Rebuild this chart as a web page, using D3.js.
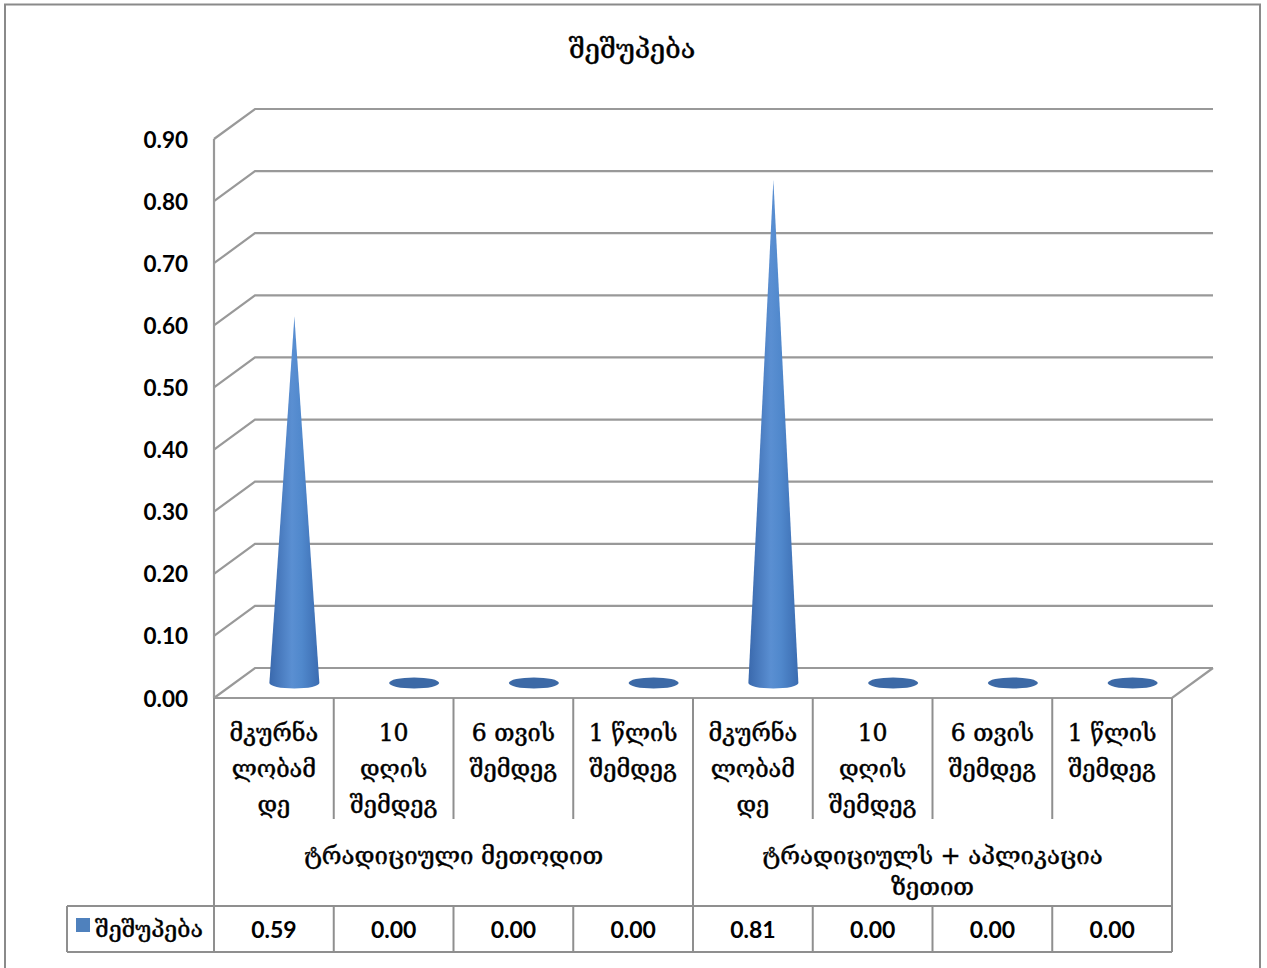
<!DOCTYPE html>
<html>
<head>
<meta charset="utf-8">
<script src="https://cdn.jsdelivr.net/npm/d3@7"></script>
<style>
  html, body { margin: 0; padding: 0; background: #fff; }
  svg { display: block; }
  .geo { font-family: 'DejaVu Serif', 'DejaVu Sans', serif; fill: #000; stroke: #000; stroke-width: 0.45px; }
  .num { font-family: Lato, 'Liberation Sans', sans-serif; font-weight: bold; font-size: 23px; fill: #000; }
</style>
</head>
<body>
<svg id="chart" width="1267" height="968"></svg>
<script>
// Chart content
const title = "შეშუპება";
const seriesName = "შეშუპება";
const categories = [
  "მკურნა\nლობამ\nდე", "10\nდღის\nშემდეგ", "6 თვის\nშემდეგ", "1 წლის\nშემდეგ",
  "მკურნა\nლობამ\nდე", "10\nდღის\nშემდეგ", "6 თვის\nშემდეგ", "1 წლის\nშემდეგ"
];
const groups = ["ტრადიციული მეთოდით", "ტრადიციულს + აპლიკაცია\nზეთით"];
const groupSize = 4;
const values = [0.59, 0.00, 0.00, 0.00, 0.81, 0.00, 0.00, 0.00];
const yTicks = [0, 0.1, 0.2, 0.3, 0.4, 0.5, 0.6, 0.7, 0.8, 0.9];

const svg = d3.select("#chart");
const lineCol = "#8f8f8f";

// plot frame: front plane, with the back wall offset by the depth vector
const left = 214, right = 1172;
const depth = { dx: 41, dy: -30 };
const x = d3.scaleBand().domain(d3.range(categories.length)).range([left, right]);
const y = d3.scaleLinear().domain([0, 0.9]).range([698, 139]);
const fmt = d3.format(".2f");

// outer chart border
svg.append("path")
  .attr("d", "M5,980 L5,4.5 L1260,4.5 L1260,980")
  .attr("fill", "none").attr("stroke", "#8a8a8a").attr("stroke-width", 2);

// title
svg.append("text").text(title).attr("class", "geo")
  .attr("x", 632).attr("y", 48).attr("text-anchor", "middle")
  .attr("dominant-baseline", "central")
  .style("font-size", "27px");

// gridlines: side-wall diagonal + back-wall horizontal
const grid = svg.append("g").attr("fill", "none").attr("stroke", "#999").attr("stroke-width", 2.2);
yTicks.forEach(t => {
  const yy = y(t);
  grid.append("path").attr("d",
    `M${left},${yy} L${left + depth.dx},${yy + depth.dy} L${right + depth.dx},${yy + depth.dy}`);
});
// front-left axis line
grid.append("line").attr("x1", left).attr("x2", left).attr("y1", y(0.9)).attr("y2", y(0));
// floor right edge and front edge
grid.append("path").attr("d",
  `M${left},${y(0)} L${right},${y(0)} L${right + depth.dx},${y(0) + depth.dy}`);

// y tick labels
svg.append("g").selectAll("text").data(yTicks).join("text")
  .attr("class", "num").style("font-size", "22.5px")
  .text(d => fmt(d))
  .attr("x", 188).attr("y", d => y(d))
  .attr("text-anchor", "end").attr("dominant-baseline", "central");

// cone gradient
const defs = svg.append("defs");
const grad = defs.append("linearGradient").attr("id", "coneGrad")
  .attr("x1", "0%").attr("x2", "100%").attr("y1", "0%").attr("y2", "0%");
grad.append("stop").attr("offset", "0%").attr("stop-color", "#3a69ad");
grad.append("stop").attr("offset", "45%").attr("stop-color", "#5a8fd2");
grad.append("stop").attr("offset", "65%").attr("stop-color", "#5088cc");
grad.append("stop").attr("offset", "100%").attr("stop-color", "#3b6cb1");

// cones, centred at mid-depth of the floor
const rx = 25, ry = 5.5;
const cones = svg.append("g");
values.forEach((v, i) => {
  const cx = x(i) + x.bandwidth() / 2 + depth.dx / 2;
  const by = y(0) + depth.dy / 2;
  const ay = y(v) + depth.dy / 2;
  if (v > 0) {
    cones.append("path")
      .attr("d", `M${cx - rx},${by} L${cx},${ay} L${cx + rx},${by} A${rx},${ry} 0 0 1 ${cx - rx},${by} Z`)
      .attr("fill", "url(#coneGrad)");
  } else {
    cones.append("ellipse").attr("cx", cx).attr("cy", by).attr("rx", rx).attr("ry", ry)
      .attr("fill", "#3c69a6");
  }
});

// data table
const tbl = svg.append("g").attr("stroke", lineCol).attr("stroke-width", 2).attr("fill", "none");
const rowCatBottom = 819, rowGrpBottom = 906, rowValBottom = 952;
// category dividers
d3.range(categories.length + 1).forEach(i => {
  const xx = i < categories.length ? x(i) : right;
  const isGroupEdge = i % groupSize === 0;
  tbl.append("line").attr("x1", xx).attr("x2", xx)
    .attr("y1", y(0)).attr("y2", isGroupEdge ? rowValBottom : rowCatBottom);
  if (!isGroupEdge) {
    tbl.append("line").attr("x1", xx).attr("x2", xx).attr("y1", rowGrpBottom).attr("y2", rowValBottom);
  }
});
// value row box incl. legend cell
tbl.append("line").attr("x1", 67).attr("x2", right).attr("y1", rowGrpBottom).attr("y2", rowGrpBottom);
tbl.append("line").attr("x1", 67).attr("x2", right).attr("y1", rowValBottom).attr("y2", rowValBottom);
tbl.append("line").attr("x1", 67).attr("x2", 67).attr("y1", rowGrpBottom).attr("y2", rowValBottom);

// category labels
const catG = svg.append("g");
categories.forEach((c, i) => {
  const t = catG.append("text").attr("class", "geo")
    .attr("text-anchor", "middle").style("font-size", "23.5px");
  c.split("\n").forEach((ln, k) => {
    t.append("tspan").text(ln)
      .attr("x", x(i) + x.bandwidth() / 2)
      .attr("y", 733 + k * 36).attr("dominant-baseline", "central");
  });
});

// group labels
groups.forEach((g, gi) => {
  const x0 = x(gi * groupSize);
  const x1 = gi * groupSize + groupSize < categories.length ? x(gi * groupSize + groupSize) : right;
  const t = svg.append("text").attr("class", "geo").attr("text-anchor", "middle")
    .style("font-size", "24px");
  g.split("\n").forEach((ln, k) => {
    t.append("tspan").text(ln).attr("x", (x0 + x1) / 2)
      .attr("y", 856 + k * 31).attr("dominant-baseline", "central");
  });
});

// legend key in table
svg.append("rect").attr("x", 76).attr("y", 918).attr("width", 14).attr("height", 14).attr("fill", "#4f81bd");
svg.append("text").text(seriesName).attr("class", "geo").attr("x", 95).attr("y", 929)
  .attr("dominant-baseline", "central")
  .style("font-size", "23px");

// value cells
svg.append("g").selectAll("text").data(values).join("text")
  .attr("class", "num")
  .text(d => fmt(d))
  .attr("x", (d, i) => x(i) + x.bandwidth() / 2).attr("y", 929)
  .attr("text-anchor", "middle").attr("dominant-baseline", "central");
</script>
</body>
</html>
